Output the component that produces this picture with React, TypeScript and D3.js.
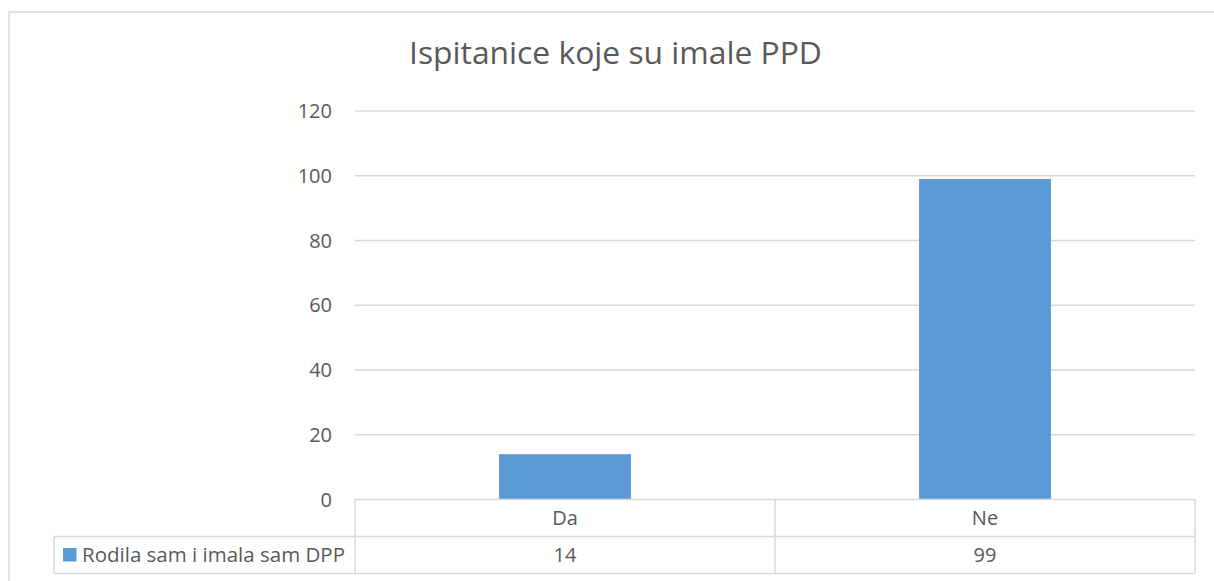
import React from "react";
import * as d3 from "d3";

const title = "Ispitanice koje su imale PPD";
const categories = ["Da", "Ne"];
const seriesName = "Rodila sam i imala sam DPP";
const values = [14, 99];
const yTicks = [0, 20, 40, 60, 80, 100, 120];

const W = 1214;
const H = 581;
const FONT = "'Open Sans', sans-serif";
const TEXT = "#595959";
const GRID = "#D9D9D9";
const BAR = "#5B9BD5";

export default function App() {
  const plotLeft = 355;
  const plotRight = 1195;
  const plotTop = 111;
  const plotBottom = 499.5;
  const rowH = 37;

  const x = d3.scaleBand<string>().domain(categories).range([plotLeft, plotRight]).paddingInner(0.686).paddingOuter(0.343);
  const band = d3.scaleBand<string>().domain(categories).range([plotLeft, plotRight]);
  const y = d3.scaleLinear().domain([0, 120]).range([plotBottom, plotTop]);

  const legendLeft = 54;
  const row1 = plotBottom;
  const row2 = plotBottom + rowH;
  const row3 = row2 + rowH;

  return (
    <svg width={W} height={H} style={{ position: "absolute", left: 0, top: 0, background: "#fff" }} fontFamily={FONT}>
      <rect x={9} y={12} width={W + 20} height={H + 20} fill="#fff" stroke={GRID} strokeWidth={1.5} />
      <text x={615.5} y={64} textAnchor="middle" fontSize={31.8} fill={TEXT} fontWeight={400}>{title}</text>
      {yTicks.map((t) => (
        <g key={t}>
          {t > 0 && <line x1={plotLeft} x2={plotRight} y1={y(t)} y2={y(t)} stroke={GRID} strokeWidth={1.5} />}
          <text x={332} y={y(t)} dy="0.35em" textAnchor="end" fontSize={20} fill={TEXT}>{t}</text>
        </g>
      ))}
      {categories.map((c, i) => (
        <rect key={c} x={x(c)} y={y(values[i])} width={x.bandwidth()} height={y(0) - y(values[i])} fill={BAR} />
      ))}
      {/* data table */}
      <g stroke={GRID} strokeWidth={1.5} fill="none">
        <line x1={plotLeft} x2={plotRight} y1={row1} y2={row1} />
        <line x1={legendLeft} x2={plotRight} y1={row2} y2={row2} />
        <line x1={legendLeft} x2={plotRight} y1={row3} y2={row3} />
        <line x1={legendLeft} x2={legendLeft} y1={row2} y2={row3} />
        {categories.map((c) => (
          <line key={c} x1={band(c)} x2={band(c)} y1={row1} y2={row3} />
        ))}
        <line x1={plotRight} x2={plotRight} y1={row1} y2={row3} />
      </g>
      {categories.map((c, i) => (
        <g key={c}>
          <text x={band(c)! + band.bandwidth() / 2} y={row1 + rowH / 2} dy="0.35em" textAnchor="middle" fontSize={20} fill={TEXT}>{c}</text>
          <text x={band(c)! + band.bandwidth() / 2} y={row2 + rowH / 2} dy="0.35em" textAnchor="middle" fontSize={20} fill={TEXT}>{values[i]}</text>
        </g>
      ))}
      <rect x={63} y={548} width={13.5} height={13.5} fill={BAR} />
      <text x={82} y={row2 + rowH / 2} dy="0.35em" fontSize={20.5} fill={TEXT}>{seriesName}</text>
    </svg>
  );
}
